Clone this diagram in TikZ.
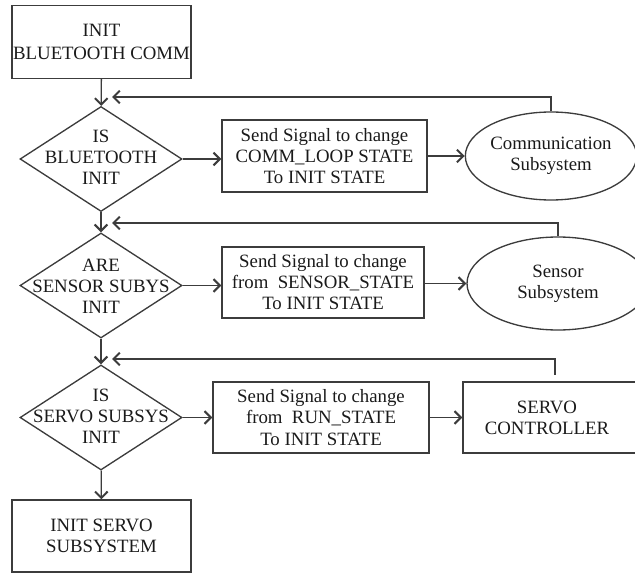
\documentclass[tikz,border=0pt]{standalone}
\usepackage{fontspec}
\setmainfont{Liberation Serif}
\usetikzlibrary{arrows.meta,shapes.geometric}

\definecolor{ink}{HTML}{1A1A1A}
\definecolor{edge}{HTML}{3C3C3C}

\tikzset{
  base/.style={draw=edge, line width=1pt, text=ink, inner sep=0pt,
    font=\fontsize{14.1}{15.8}\selectfont, align=center},
  procbox/.style={base, rectangle},
  decide/.style={base, diamond, minimum width=162*0.75pt, minimum height=105*0.75pt, aspect=1.55},
  subsys/.style={base, ellipse},
  txt/.style={text=ink, inner sep=0pt, font=\fontsize{14.1}{15.8}\selectfont, align=center},
  flow/.style={draw=edge, line width=1pt,
    -{Straight Barb[length=4.8pt,width=9.5pt,line width=1.5pt]}},
  plain/.style={draw=edge, line width=1pt}
}

\begin{document}
\begin{tikzpicture}[x=0.75pt, y=-0.75pt]
\useasboundingbox (0,0) rectangle (635,574);

% main column
\node[procbox, minimum width=179*0.75pt, minimum height=73*0.75pt,
      font=\fontsize{14.1}{17.2}\selectfont] (b1) at (101.5,42) {INIT\\BLUETOOTH COMM};

\node[decide] (q1) at (101,159) {};
\node[txt] (q1t) at (101,157) {IS\\BLUETOOTH\\INIT};

\node[decide] (q2) at (101,285.5) {};
\node[txt] (q2t) at (101,286) {ARE\\SENSOR SUBYS\\INIT};

\node[decide] (q3) at (101,417.5) {};
\node[txt] (q3t) at (101,416) {IS\\SERVO SUBSYS\\INIT};

\node[procbox, minimum width=179*0.75pt, minimum height=72*0.75pt] (b5) at (101.5,536) {INIT SERVO\\SUBSYSTEM};

% signal boxes
\node[procbox, minimum width=205*0.75pt, minimum height=72*0.75pt] (s1) at (324.5,156)
  {Send Signal to change\\COMM\_LOOP STATE\\To INIT STATE};
\node[procbox, minimum width=202*0.75pt, minimum height=71*0.75pt] (s2) at (323,282.5)
  {Send Signal to change\\from\ \ SENSOR\_STATE\\To INIT STATE};
\node[procbox, minimum width=216*0.75pt, minimum height=71*0.75pt] (s3) at (321,417.5)
  {Send Signal to change\\from\ \ RUN\_STATE\\To INIT STATE};

% subsystems
\node[subsys, minimum width=170*0.75pt, minimum height=88*0.75pt] (e1) at (551,156)
  {Communication\\Subsystem};
\node[subsys, minimum width=182*0.75pt, minimum height=93*0.75pt] (e2) at (558,283.5)
  {Sensor\\Subsystem};
% servo controller box runs past the right margin
\node[procbox, minimum width=190*0.75pt, minimum height=71*0.75pt] (c3) at (558,417.5) {};
\node[txt] (c3t) at (547,418) {SERVO\\CONTROLLER};

% feedback targets beside the main column
\coordinate (f1) at (112,97);
\coordinate (f2) at (112,223);
\coordinate (f3) at (112,359);

% main column flow
\draw[flow] (b1) -- (q1);
\draw[flow] (q1) -- (q2);
\draw[flow] (q2) -- (q3);
\draw[flow] (q3) -- (b5);

% decisions to signal boxes
\draw[flow] (q1.east) -- (q1.east -| s1.west);
\draw[flow] (q2.east) -- (q2.east -| s2.west);
\draw[flow] (q3.east) -- (q3.east -| s3.west);

% signal boxes to subsystems
\draw[flow] (s1.east) -- (e1.west);
\draw[flow] (s2.east |- e2.west) -- (e2.west);
\draw[flow] (s3.east) -- (s3.east -| c3.west);

% feedback loops
\draw[flow] (e1.north) |- (f1);
\draw[flow] (e2.north) |- (f2);
\draw[flow] ([xshift=-2.3pt,yshift=5pt]c3.north) |- (f3);
\end{tikzpicture}
\end{document}
